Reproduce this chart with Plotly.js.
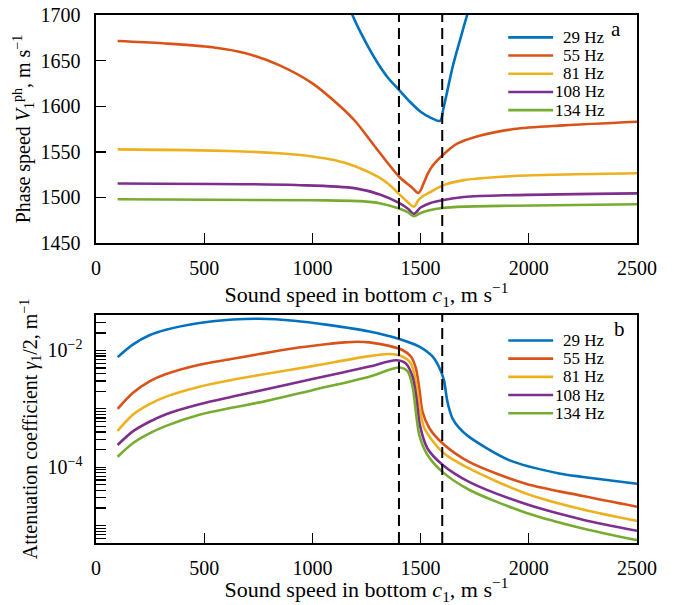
<!DOCTYPE html>
<html>
<head>
<meta charset="utf-8">
<script src="https://cdn.plot.ly/plotly-3.0.1.min.js"></script>
<style>html,body{margin:0;padding:0;background:#fff;}#chart{width:674px;height:605px;}</style>
</head>
<body>
<div id="chart"></div>
<script>
// ---- data ----
const freqLabels = ['29 Hz', '55 Hz', '81 Hz', '108 Hz', '134 Hz'];
const boundaries = [1400, 1600];

// (a) phase speed, m/s
const phase29X = [1170, 1185, 1240, 1300, 1350, 1400, 1450, 1500, 1550, 1590, 1605, 1620, 1650, 1685, 1715, 1730];
const phase29Y = [1710, 1700, 1673, 1648, 1631, 1618, 1605, 1594, 1587, 1584, 1597, 1613, 1645, 1675, 1700, 1712];
const phase55X = [100, 308, 538, 692, 846, 1000, 1123, 1200, 1285, 1400, 1460, 1490, 1515, 1531, 1550, 1575, 1600, 1669, 1777, 1931, 2161, 2500];
const phase55Y = [1671.5, 1669, 1664.6, 1658, 1645, 1625, 1601, 1583, 1557, 1523, 1511, 1505, 1516, 1525, 1533, 1540, 1546, 1559, 1568, 1575, 1579, 1583];
const phase81X = [100, 615, 846, 1000, 1100, 1200, 1300, 1350, 1400, 1440, 1469, 1490, 1508, 1546, 1600, 1700, 1931, 2500];
const phase81Y = [1552.7, 1551, 1548.4, 1545, 1541, 1534, 1523, 1515, 1504, 1495, 1490, 1497, 1501, 1506, 1513, 1519, 1523.5, 1526.5];
const phase108X = [100, 923, 1200, 1315, 1400, 1440, 1469, 1500, 1546, 1600, 1700, 1931, 2500];
const phase108Y = [1515.4, 1513.6, 1510, 1503, 1494, 1488, 1482, 1489, 1494, 1497, 1500.5, 1502.6, 1504.5];
const phase134X = [100, 1000, 1223, 1315, 1400, 1440, 1469, 1500, 1540, 1600, 1700, 1931, 2500];
const phase134Y = [1498, 1497, 1496, 1493.5, 1488, 1484, 1479.5, 1483, 1486, 1488.5, 1490, 1491, 1492.5];

// (b) attenuation coefficient gamma/2, 1/m
const att29X = [100, 170, 247, 324, 478, 632, 755, 916, 1072, 1263, 1401, 1494, 1555, 1594, 1609, 1624, 1647, 1678, 1724, 1909, 2140, 2250, 2500];
const att29Y = [7.7e-3, 1.26e-2, 1.82e-2, 2.26e-2, 2.95e-2, 3.39e-2, 3.5e-2, 3.24e-2, 2.75e-2, 2.12e-2, 1.58e-2, 1.17e-2, 7.9e-3, 4.4e-3, 2.95e-3, 1.32e-3, 6.9e-4, 4.7e-4, 3.3e-4, 1.32e-4, 7.8e-5, 6.8e-5, 5.2e-5];
const att55X = [100, 170, 247, 324, 478, 632, 755, 900, 1072, 1150, 1209, 1263, 1355, 1416, 1455, 1478, 1494, 1509, 1540, 1601, 1724, 1986, 2250, 2500];
const att55Y = [1.0e-3, 1.86e-3, 2.95e-3, 3.94e-3, 5.7e-3, 7.2e-3, 8.7e-3, 1.07e-2, 1.29e-2, 1.38e-2, 1.41e-2, 1.38e-2, 1.20e-2, 1.02e-2, 7.9e-3, 5.0e-3, 2.24e-3, 8.9e-4, 4.7e-4, 2.57e-4, 1.23e-4, 5.2e-5, 3.2e-5, 2.1e-5];
const att81X = [100, 170, 247, 324, 478, 632, 755, 1000, 1263, 1355, 1416, 1455, 1478, 1494, 1517, 1601, 1724, 1986, 2250, 2500];
const att81Y = [4.2e-4, 7.9e-4, 1.20e-3, 1.62e-3, 2.4e-3, 3.16e-3, 3.8e-3, 5.4e-3, 8.0e-3, 8.7e-3, 7.9e-3, 6.0e-3, 2.95e-3, 1.17e-3, 4.7e-4, 1.82e-4, 9.5e-5, 3.55e-5, 1.88e-5, 1.2e-5];
const att108X = [100, 170, 247, 324, 478, 632, 755, 1000, 1263, 1386, 1432, 1463, 1481, 1497, 1532, 1601, 1724, 1986, 2250, 2500];
const att108Y = [2.4e-4, 4.1e-4, 6.0e-4, 8.1e-4, 1.20e-3, 1.62e-3, 2.04e-3, 3.24e-3, 5.3e-3, 6.8e-3, 6.0e-3, 3.55e-3, 1.51e-3, 5.2e-4, 2.09e-4, 1.10e-4, 5.6e-5, 2.34e-5, 1.26e-5, 8.1e-6];
const att134X = [100, 170, 247, 324, 478, 632, 755, 1000, 1263, 1401, 1440, 1463, 1478, 1494, 1532, 1601, 1724, 1986, 2250, 2500];
const att134Y = [1.51e-4, 2.57e-4, 3.8e-4, 5.1e-4, 7.9e-4, 1.05e-3, 1.29e-3, 2.09e-3, 3.55e-3, 5.1e-3, 4.4e-3, 2.4e-3, 8.9e-4, 3.55e-4, 1.62e-4, 8.3e-5, 4.1e-5, 1.66e-5, 8.9e-6, 5.6e-6];

// tick labels
const phaseXTicks = [0, 500, 1000, 1500, 2000, 2500];
const phaseYTicks = [1450, 1500, 1550, 1600, 1650, 1700];
const attLabelVals = [1e-4, 1e-2];
const attLabelText = ['10<sup>−4</sup>', '10<sup>−2</sup>'];

// ---- build ----
const colors = ['#0072BD', '#D95319', '#EDB120', '#7E2F8E', '#77AC30'];
const phaseX = [phase29X, phase55X, phase81X, phase108X, phase134X];
const phaseY = [phase29Y, phase55Y, phase81Y, phase108Y, phase134Y];
const attX = [att29X, att55X, att81X, att108X, att134X];
const attY = [att29Y, att55Y, att81Y, att108Y, att134Y];

const traces = [];
for (let i = 0; i < freqLabels.length; i++) {
  traces.push({x: phaseX[i], y: phaseY[i], xaxis: 'x', yaxis: 'y', type: 'scatter', mode: 'lines',
    name: freqLabels[i], showlegend: false, line: {color: colors[i], width: 2.6, shape: 'spline', smoothing: 0.9}});
}
for (let i = 0; i < freqLabels.length; i++) {
  traces.push({x: attX[i], y: attY[i], xaxis: 'x2', yaxis: 'y2', type: 'scatter', mode: 'lines',
    name: freqLabels[i], showlegend: false, line: {color: colors[i], width: 2.6, shape: 'spline', smoothing: 0.8}});
}

// unlabeled log minor tick positions
const attMinorVals = [];
for (let e = -6; e <= -2; e++) {
  for (let m = 1; m <= 9; m++) attMinorVals.push(m * Math.pow(10, e));
}

const FAMILY = 'Liberation Serif, DejaVu Serif, serif';
const font = {family: FAMILY, color: '#000'};
const tickFont = {family: FAMILY, color: '#000', size: 20};
const xTitleFont = {family: FAMILY, color: '#000', size: 22};
const yTitleFont = {family: FAMILY, color: '#000', size: 20};

const baseAxis = {
  showgrid: false, zeroline: false, showline: true, linecolor: '#000', linewidth: 1.6, mirror: true,
  ticks: 'inside', ticklen: 10, tickwidth: 1.3, tickcolor: '#000', tickfont: tickFont
};

const shapes = [];
const annotations = [];
[['x', 'y'], ['x2', 'y2']].forEach(function (ax) {
  boundaries.forEach(function (b) {
    shapes.push({type: 'line', xref: ax[0], yref: ax[1] + ' domain', x0: b, x1: b, y0: 0, y1: 1,
      line: {color: '#000', width: 2, dash: '11px,6px'}});
  });
});

// manual legends inside each panel
const legTop = {y: 'y', row0: 0.902, xref: 'x'};
const legBot = {y: 'y2', row0: 0.888, xref: 'x2'};
[legTop, legBot].forEach(function (L) {
  for (let i = 0; i < freqLabels.length; i++) {
    const yy = L.row0 - i * 0.0798;
    shapes.push({type: 'line', xref: L.xref + ' domain', yref: L.y + ' domain', x0: 0.762, x1: 0.845, y0: yy, y1: yy,
      line: {color: colors[i], width: 2.6}});
    annotations.push({xref: L.xref + ' domain', yref: L.y + ' domain', x: 0.944, y: yy, xanchor: 'right', yanchor: 'middle',
      text: freqLabels[i], showarrow: false, font: {family: FAMILY, color: '#000', size: 17}});
  }
});
annotations.push({xref: 'x domain', yref: 'y domain', x: 0.975, y: 0.94, xanchor: 'right', yanchor: 'middle',
  text: 'a', showarrow: false, font: {family: FAMILY, color: '#000', size: 21}});
annotations.push({xref: 'x2 domain', yref: 'y2 domain', x: 0.982, y: 0.94, xanchor: 'right', yanchor: 'middle',
  text: 'b', showarrow: false, font: {family: FAMILY, color: '#000', size: 21}});

const layout = {
  width: 674, height: 605,
  margin: {l: 96, r: 37, t: 15, b: 62},
  paper_bgcolor: '#fff', plot_bgcolor: '#fff',
  font: font,
  showlegend: false,
  xaxis: Object.assign({}, baseAxis, {domain: [0, 1], anchor: 'y', range: [0, 2500], tickmode: 'array', tickvals: phaseXTicks,
    ticklabelstandoff: 6,
    title: {text: 'Sound speed in bottom <i>c</i><sub>1</sub>, m s<sup>−1</sup>', font: xTitleFont, standoff: 0}}),
  yaxis: Object.assign({}, baseAxis, {domain: [0.568, 1], anchor: 'x', range: [1450, 1700], tickmode: 'array', tickvals: phaseYTicks,
    ticklabelstandoff: 10,
    title: {text: 'Phase speed <i>V</i><sub>1</sub><sup>ph</sup>, m s<sup>−1</sup>', font: yTitleFont, standoff: 4}}),
  xaxis2: Object.assign({}, baseAxis, {domain: [0, 1], anchor: 'y2', range: [0, 2500], tickmode: 'array', tickvals: phaseXTicks,
    ticklabelstandoff: 6,
    title: {text: 'Sound speed in bottom <i>c</i><sub>1</sub>, m s<sup>−1</sup>', font: xTitleFont, standoff: 0}}),
  yaxis2: Object.assign({}, baseAxis, {domain: [0, 0.432], anchor: 'x2', type: 'log', range: [-5.3, -1.39],
    tickmode: 'array', tickvals: attLabelVals, ticktext: attLabelText, ticklabelstandoff: 8,
    minor: {tickmode: 'array', tickvals: attMinorVals, ticks: 'inside', ticklen: 10, tickwidth: 1.3, tickcolor: '#000', showgrid: false},
    title: {text: 'Attenuation coefficient <i>γ</i><sub>1</sub>/2, m<sup>−1</sup>', font: yTitleFont, standoff: 4}}),
  shapes: shapes,
  annotations: annotations
};

Plotly.newPlot('chart', traces, layout, {staticPlot: true, displayModeBar: false});
</script>
</body>
</html>
